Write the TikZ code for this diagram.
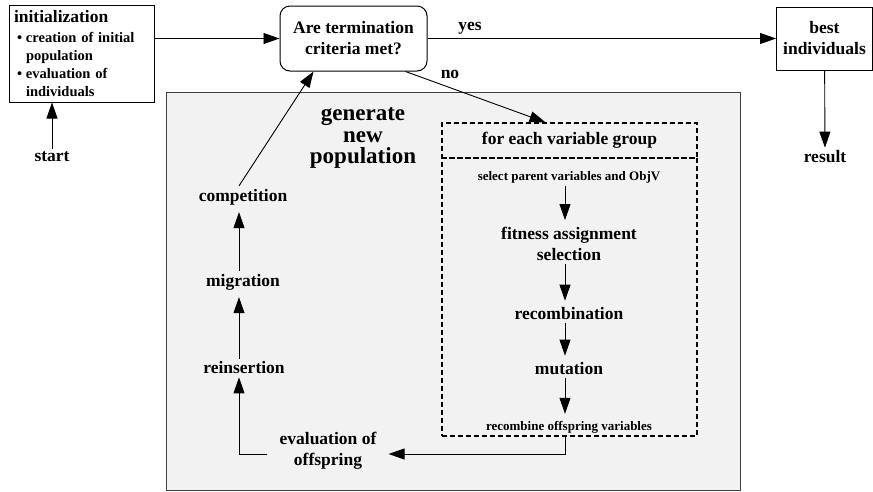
\documentclass[tikz,border=0pt]{standalone}
\usepackage{fontspec}
\setmainfont{Liberation Serif}
\usepackage{tikz}
\usetikzlibrary{arrows.meta}
\usetikzlibrary{positioning}

\newcommand{\bitem}[1]{\hspace*{3pt}\makebox[9pt][l]{\textbullet}#1}
\newcommand{\bcont}[1]{\hspace*{12pt}#1}

\tikzset{
  txt/.style={font=\fontsize{17.5}{21}\selectfont\bfseries, align=center, inner sep=3pt},
  smalltxt/.style={font=\fontsize{13}{15}\selectfont\bfseries, inner sep=3pt},
  box/.style={txt, draw, line width=1pt},
  flow/.style={-{Triangle[length=16pt,width=11pt]}, line width=0.9pt},
  dashedbox/.style={draw, dashed, dash pattern=on 5pt off 3pt, line width=1.3pt},
}

\begin{document}
\begin{tikzpicture}[x=1pt,y=-1pt]
  \useasboundingbox (0,0) rectangle (873,491);
  % grey panel
  \draw [fill=gray!10, draw=black!75, line width=0.8pt] (166,92) rectangle (740,490);
  \node [txt, font=\fontsize{23}{21.5}\selectfont\bfseries] (gen) at (363,138) {generate\\new\\population};

  % top row
  \node [box, align=left, text width=135pt, minimum width=145pt, minimum height=97pt,
         inner sep=5pt, font=\fontsize{14.5}{18}\selectfont\bfseries] (init) at (81.5,53.5)
    {{\fontsize{17.5}{18}\selectfont initialization}\\[2pt]
     \bitem{creation of initial}\\ \bcont{population}\\
     \bitem{evaluation of}\\ \bcont{individuals}};
  \node [box, rounded corners=10pt, minimum width=147pt, minimum height=65pt] (dec) at (353.5,38.5)
    {Are termination\\criteria met?};
  \node [box, minimum width=96pt, minimum height=63pt] (best) at (824.5,38.5) {best\\individuals};
  \node [txt] (start) at (52,157) {start};
  \node [txt] (result) at (825,157) {result};
  \node [txt] (yes) at (470,28) {yes};
  \node [txt] (no) at (450,74) {no};

  % variable group
  \node [dashedbox, txt, minimum width=255pt, minimum height=35pt] (grp) at (569.5,140.5) {for each variable group};
  \node [dashedbox, minimum width=255pt, minimum height=278pt] (body) at (569.5,297) {};
  \node [smalltxt] (sel) at (569,177) {select parent variables and ObjV};
  \node [txt] (fit) at (569,244) {fitness assignment\\selection};
  \node [txt] (rec) at (569,314) {recombination};
  \node [txt] (mut) at (569,369) {mutation};
  \node [smalltxt] (off) at (569,427) {recombine offspring variables};

  % left column
  \node [txt, inner xsep=12pt] (eva) at (328,450.5) {evaluation of\\offspring};
  \node [txt] (rei) at (244,368) {reinsertion};
  \node [txt] (mig) at (243,282) {migration};
  \node [txt] (comp) at (243,197) {competition};

  % connectors
  \draw [flow] (start) -- (start |- init.south);
  \draw [flow] (init.east |- dec.west) -- (dec.west);
  \draw [flow] (dec.east) -- (best.west);
  \draw [flow] (best) -- (result);
  \draw [flow] ([xshift=-22pt]dec.south east) -- ([xshift=-24pt]grp.north);
  \foreach \a/\b in {sel/fit, fit/rec, rec/mut, mut/off}
    \draw [flow, shorten >=4pt] ([xshift=-4pt]\a.south) -- ([xshift=-4pt]\b.north);
  \draw [flow] ([xshift=-4pt]body.south) |- ([yshift=-3.5pt]eva.east);
  \draw [flow] ([yshift=-3.5pt]eva.west) -| ([xshift=-5pt]rei.south);
  \draw [flow, shorten >=4pt] ([xshift=-5pt]rei.north) -- ([xshift=-4pt]mig.south);
  \draw [flow, shorten >=4pt] ([xshift=-4pt]mig.north) -- ([xshift=-4pt]comp.south);
  \draw [flow] ([xshift=-4pt]comp.north) -- ([xshift=-40pt]dec.south);
\end{tikzpicture}
\end{document}
